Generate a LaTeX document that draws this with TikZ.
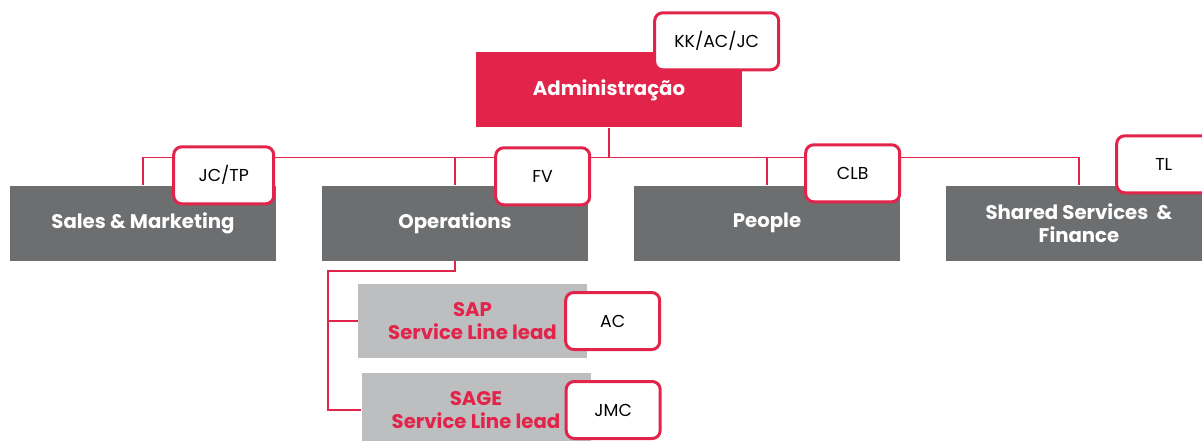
\documentclass[tikz,border=0pt]{standalone}
\usepackage{fontspec}
\setmainfont{Poppins}
\usetikzlibrary{positioning}
\definecolor{brandred}{HTML}{E2234A}
\definecolor{darkgrey}{HTML}{6D6E70}
\definecolor{lightgrey}{HTML}{BDBEC0}

\begin{document}
\begin{tikzpicture}[x=1pt,y=-1pt,node distance=312pt,on grid,
    box/.style={rectangle,minimum width=266pt,minimum height=75pt,inner sep=0pt,
      align=center,font=\bfseries\fontsize{19.7}{23.5}\selectfont},
    head/.style={box,fill=brandred,text=white},
    dept/.style={box,fill=darkgrey,text=white},
    lead/.style={box,fill=lightgrey,text=brandred,minimum width=229pt,minimum height=74pt},
    tag/.style={rectangle,draw=brandred,line width=3pt,rounded corners=8pt,fill=white,
      minimum width=94pt,minimum height=57pt,font=\fontsize{17.3}{20}\selectfont},
    link/.style={draw=brandred,line width=1.6pt}]
  \useasboundingbox (0,0) rectangle (1202,441);
  \node[head] (admin) at (609,90) {Administração};
  \node[dept] (sales) at (143,223) {Sales \& Marketing};
  \node[dept] (ops) [right=of sales] {Operations};
  \node[dept] (people) [right=of ops] {People};
  \node[dept] (shared) [right=of people] {Shared Services~~\&\\Finance};
  \node[lead] (sap) at (472.5,321) {SAP\\Service Line lead};
  \node[lead] (sage) at (476,410) {SAGE\\Service Line lead};

  % connectors
  \coordinate (bus) at ([yshift=-30pt]admin.south);
  \coordinate (rail) at (328,271);
  \draw[link] (admin.south) -- (bus);
  \draw[link] (sales.north) |- (bus) -| (shared.north);
  \draw[link] (ops.north) -- (ops.north |- bus);
  \draw[link] (people.north) -- (people.north |- bus);
  \draw[link] (ops.south) |- (rail) |- (sap.west);
  \draw[link] (rail) |- (sage.west);

  % initials
  \node[tag,minimum width=124pt,anchor=south east] (tadmin) at ([xshift=38pt,yshift=-19pt]admin.north east) {KK/AC/JC};
  \node[tag,minimum width=100pt,anchor=south east] (tsales) at ([xshift=-1pt,yshift=-20pt]sales.north east) {JC/TP};
  \node[tag,anchor=south east] (tops) at ([xshift=3pt,yshift=-21pt]ops.north east) {FV};
  \node[tag,anchor=south east] (tpeople) at ([xshift=1pt,yshift=-18pt]people.north east) {CLB};
  \node[tag,anchor=south east] (tshared) at ([yshift=-9pt]shared.north east) {TL};
  \node[tag,anchor=west] (tsap) at ([xshift=-23pt]sap.east) {AC};
  \node[tag,anchor=west] (tsage) at ([xshift=-26pt]sage.east) {JMC};
\end{tikzpicture}
\end{document}
